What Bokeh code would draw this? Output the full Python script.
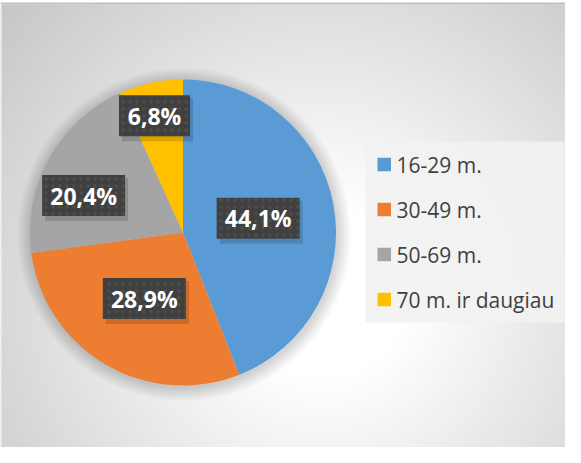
import numpy as np
from bokeh.plotting import figure
from bokeh.models import Range1d, ColumnDataSource
from bokeh.core.properties import value
from bokeh.embed import file_html
from bokeh.resources import INLINE

# ---- data ----
categories = ["16-29 m.", "30-49 m.", "50-69 m.", "70 m. ir daugiau"]
shares = [44.1, 28.9, 20.4, 6.8]
labels = ["44,1%", "28,9%", "20,4%", "6,8%"]
colors = ["#5B9BD5", "#ED7D31", "#A5A5A5", "#FFC000"]

# ---- layout ----
W, H = 565, 447
cx, cy, R = 182.5, 215.0, 153.0
label_rf = [0.5, 0.5, 0.693, 0.785]
label_off = [0.0, 0.0, 8.5, 1.5]

p = figure(width=W, height=H, x_range=Range1d(0, W), y_range=Range1d(0, H),
           output_backend="svg", toolbar_location=None, min_border=0,
           x_axis_location=None, y_axis_location=None)
p.grid.visible = False
p.outline_line_color = None
p.background_fill_color = "white"
p.border_fill_color = "white"

# background radial gradient
top = 443
ny, nx = top, W
fy = np.arange(ny)[:, None] + 0.5
fx = np.arange(nx)[None, :] + 0.5
ix, iy = fx + 8, 455 - fy
d = np.sqrt((ix - 330) ** 2 + (iy - 300) ** 2)
v = np.clip(255 - 0.165 * np.maximum(d - 87, 0), 190, 255).astype(np.uint32)
img = (255 << 24) | (v << 16) | (v << 8) | v
p.image_rgba(image=[img.astype(np.uint32)], x=0, y=0, dw=W, dh=top)
p.quad(left=0, right=W, bottom=top, top=top + 2, fill_color="#bfbfbf", line_color=None)
p.quad(left=0, right=1.5, bottom=0, top=top, fill_color="#e4e4e4", line_color=None)

# pie shadow
for k in range(14, 0, -1):
    p.circle(x=cx + 1, y=cy - 2, radius=R + k, fill_color="black", fill_alpha=0.012, line_color=None)

# wedges
total = sum(shares)
cum = np.concatenate([[0.0], np.cumsum(shares)]) / total * 2 * np.pi
start = np.pi / 2 - cum[:-1]
end = np.pi / 2 - cum[1:]
src = ColumnDataSource(dict(start=start, end=end, color=colors, cat=categories))
p.wedge(x=cx, y=cy, radius=R, start_angle="start", end_angle="end", direction="clock",
        fill_color="color", line_color=None, source=src)

# labels
mid = (start + end) / 2 + np.radians(label_off)
lx = cx + np.array(label_rf) * R * np.cos(mid)
ly = cy + np.array(label_rf) * R * np.sin(mid)
bw = [12 * len(t) + 23 for t in labels]
lsrc = ColumnDataSource(dict(x=lx, y=ly, sx=lx + 3, sy=ly - 4, w=bw, t=labels))
p.rect(x="sx", y="sy", width="w", height=43, fill_color="black", fill_alpha=0.15, line_color=None, source=lsrc)
p.rect(x="x", y="y", width="w", height=41, fill_color="#404040", line_color=None,
       hatch_pattern="dot", hatch_color="#5e5e5e", hatch_scale=7, hatch_weight=1.5, hatch_alpha=0.45,
       source=lsrc)
p.text(x="x", y="y", text="t", text_align="center", text_baseline="middle",
       text_font=value("Open Sans"), text_font_style="bold", text_font_size="23px",
       text_color="white", source=lsrc)

# legend
p.quad(left=365, right=564, bottom=125, top=306, fill_color="#f2f2f2", fill_alpha=0.9, line_color=None)
leg_y = [283 - 45 * i for i in range(len(categories))]
gsrc = ColumnDataSource(dict(y=leg_y, color=colors, cat=categories))
p.rect(x=383.75, y="y", width=13.5, height=13.5, fill_color="color", line_color=None, source=gsrc)
p.text(x=396, y="y", text="cat", text_align="left", text_baseline="middle",
       text_font=value("Open Sans"), text_font_size="21px", text_color="#404040", source=gsrc)

open("out.html", "w").write(file_html(p, INLINE))
